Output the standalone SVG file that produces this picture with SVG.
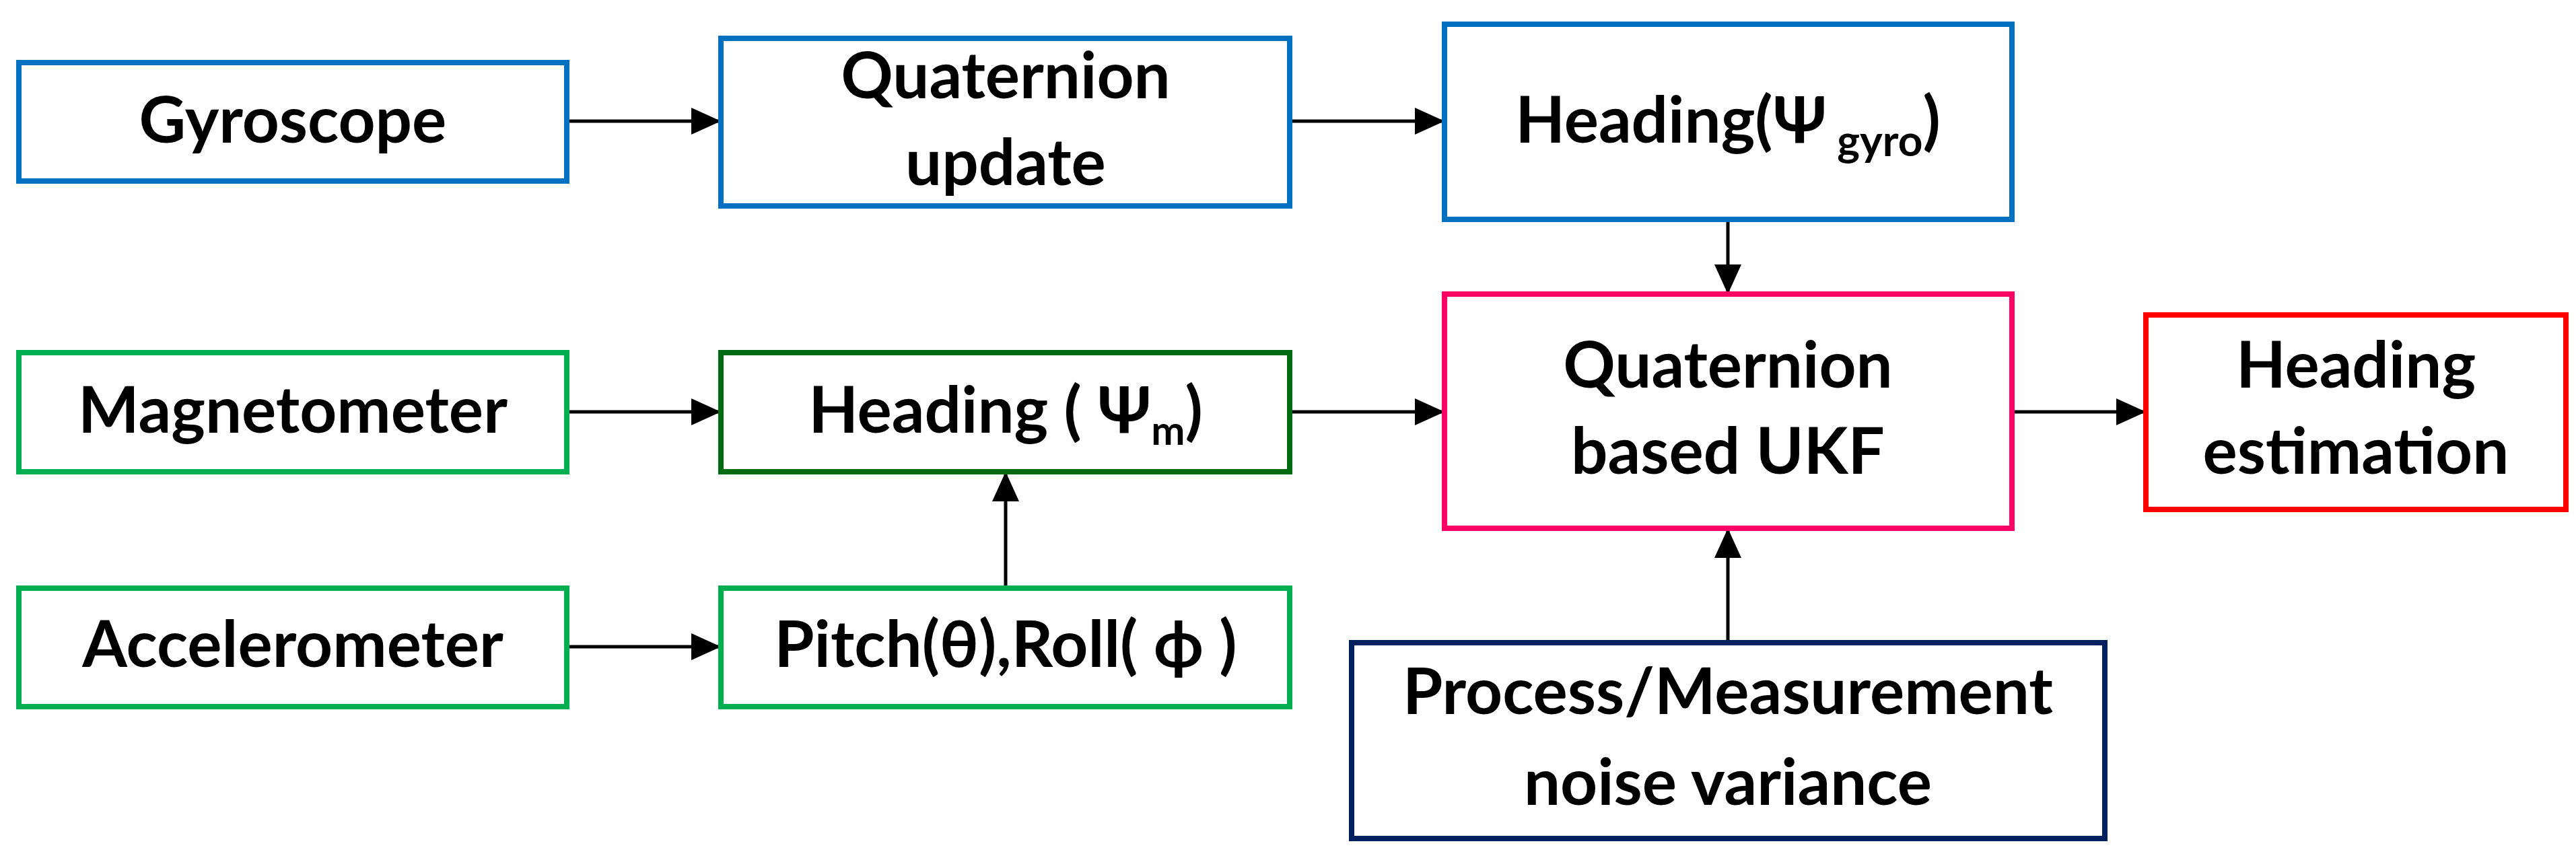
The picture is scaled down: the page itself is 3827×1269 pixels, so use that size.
<svg xmlns="http://www.w3.org/2000/svg" width="3827" height="1269" viewBox="0 0 3827 1269">
<style>
.b{fill:#fff;stroke-width:8}
.t{font-family:Lato,"Open Sans",sans-serif;font-weight:bold;font-size:96px;fill:#000;text-anchor:middle}
.c{stroke:#000;stroke-width:5;fill:none;marker-end:url(#a)}
</style>
<defs><marker id="a" markerUnits="userSpaceOnUse" markerWidth="44" markerHeight="44" viewBox="0 0 44 44" refX="44" refY="22" orient="auto"><path d="M0,2 L44,22 L0,42 Z" fill="#000"/></marker></defs>
<rect width="3827" height="1269" fill="#fff"/>
<g id="connectors">
<line class="c" x1="842" y1="180" x2="1071" y2="180"/>
<line class="c" x1="1916" y1="180" x2="2146" y2="180"/>
<line class="c" x1="842" y1="612" x2="1071" y2="612"/>
<line class="c" x1="842" y1="961" x2="1071" y2="961"/>
<line class="c" x1="1494" y1="874" x2="1494" y2="701"/>
<line class="c" x1="1916" y1="612" x2="2146" y2="612"/>
<line class="c" x1="2567" y1="326" x2="2567" y2="437"/>
<line class="c" x1="2989" y1="612" x2="3188" y2="612"/>
<line class="c" x1="2567" y1="955" x2="2567" y2="785"/>
</g>
<g id="gyro"><rect class="b" stroke="#0070C0" x="28" y="93" width="814" height="176"/><text class="t" x="435" y="212">Gyroscope</text></g>
<g id="quat"><rect class="b" stroke="#0070C0" x="1071" y="57" width="845" height="249"/><text class="t" x="1494" y="146">Quaternion</text><text class="t" x="1494" y="275">update</text></g>
<g id="hgyro"><rect class="b" stroke="#0070C0" x="2146" y="36" width="843" height="290"/><text class="t" x="2567" y="212">Heading(Ψ<tspan font-size="64" dy="20"> gyro</tspan><tspan dy="-20">)</tspan></text></g>
<g id="mag"><rect class="b" stroke="#00B050" x="28" y="524" width="814" height="177"/><text class="t" x="435" y="643">Magnetometer</text></g>
<g id="hm"><rect class="b" stroke="#006A10" x="1071" y="524" width="845" height="177"/><text class="t" x="1494" y="643">Heading ( Ψ<tspan font-size="60" dy="18">m</tspan><tspan dy="-18">)</tspan></text></g>
<g id="acc"><rect class="b" stroke="#00B050" x="28" y="874" width="814" height="176"/><text class="t" x="435" y="991">Accelerometer</text></g>
<g id="pitch"><rect class="b" stroke="#00B050" x="1071" y="874" width="845" height="176"/><text class="t" x="1494" y="991">Pitch(θ),Roll( ϕ )</text></g>
<g id="ukf"><rect class="b" stroke="#FF0066" x="2146" y="437" width="843" height="348"/><text class="t" x="2567" y="576">Quaternion</text><text class="t" x="2567" y="704">based UKF</text></g>
<g id="est"><rect class="b" stroke="#FF0000" x="3188" y="468" width="624" height="289"/><text class="t" x="3500" y="576">Heading</text><text class="t" x="3500" y="704">estimation</text></g>
<g id="noise"><rect class="b" stroke="#002060" x="2008" y="955" width="1119" height="291"/><text class="t" x="2567" y="1061">Process/Measurement</text><text class="t" x="2567" y="1196">noise variance</text></g>
</svg>
